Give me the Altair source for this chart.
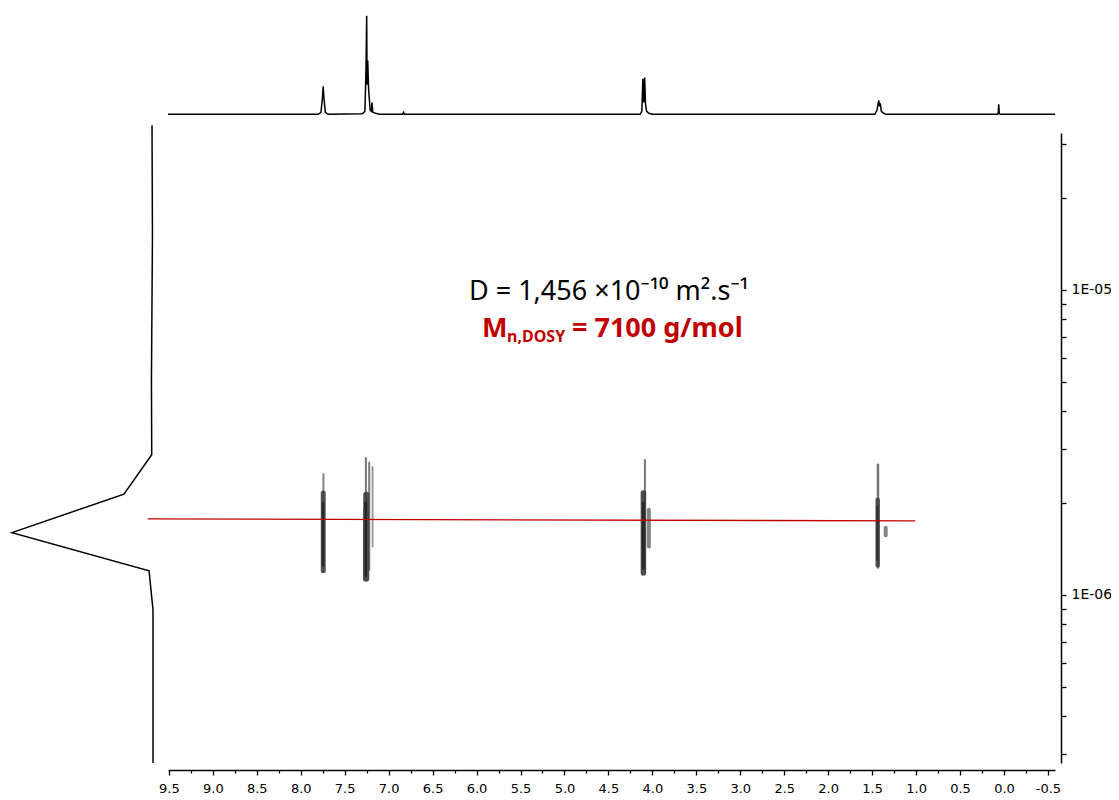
import altair as alt
import pandas as pd

# ---------------- data ----------------
# top 1D 1H spectrum: chemical shift (ppm) and normalised intensity
spec_ppm = [9.51, 7.80, 7.77, 7.755, 7.745, 7.735, 7.72, 7.69,
            7.30, 7.27, 7.258, 7.25, 7.245, 7.238, 7.228, 7.21, 7.195, 7.19, 7.18, 7.15, 7.10,
            6.84, 6.83, 6.82,
            4.14, 4.12, 4.108, 4.098, 4.088, 4.078, 4.065, 4.04, 4.00,
            1.47, 1.445, 1.425, 1.415, 1.408, 1.395, 1.37, 1.34,
            0.075, 0.066, 0.06, 0.054, 0.045, -0.58]
spec_int = [0, 0, 0.02, 0.15, 0.283, 0.15, 0.02, 0,
            0.005, 0.03, 0.45, 1.0, 0.3, 0.545, 0.25, 0.04, 0.03, 0.12, 0.02, 0.01, 0,
            0, 0.02, 0,
            0, 0.03, 0.36, 0.12, 0.374, 0.10, 0.03, 0.01, 0,
            0, 0.04, 0.141, 0.08, 0.11, 0.03, 0.01, 0,
            0, 0.01, 0.101, 0.01, 0, 0]

# left diffusion projection: intensity vs diffusion coefficient
proj_int = [0.007, 0.004, 0.011, 0.009, 0.206, 1.0, 0.028, 0.0, 0.0]
proj_D = [3.47e-5, 1.5e-5, 5.07e-6, 2.88e-6, 2.14e-6, 1.60e-6, 1.20e-6, 8.93e-7, 2.81e-7]

# red fitted diffusion line
red_ppm = [9.74, 1.01]
red_D = [1.775e-6, 1.748e-6]

# DOSY cross-peak contours: shift, D low, D high, stroke width, shade
cont_ppm = [7.742, 7.744, 7.746,
            7.259, 7.221, 7.183, 7.255, 7.262, 7.280,
            4.085, 4.102, 4.105, 4.040,
            1.434, 1.437, 1.440, 1.346]
cont_Dlo = [1.19e-6, 1.20e-6, 1.25e-6,
            1.14e-6, 1.21e-6, 1.44e-6, 1.13e-6, 1.16e-6, 1.12e-6,
            1.21e-6, 1.18e-6, 1.22e-6, 1.44e-6,
            1.23e-6, 1.25e-6, 1.30e-6, 1.57e-6]
cont_Dhi = [2.49e-6, 2.16e-6, 2.00e-6,
            2.81e-6, 2.71e-6, 2.63e-6, 2.13e-6, 2.00e-6, 1.90e-6,
            2.77e-6, 2.16e-6, 2.00e-6, 1.90e-6,
            2.67e-6, 2.05e-6, 1.95e-6, 1.66e-6]
cont_w = [2, 5, 2.5,
          2, 2, 1.8, 6, 3, 2,
          2, 5.5, 2.5, 4,
          2.5, 4.5, 2, 4]
cont_c = ['#777777', '#444444', '#222222',
          '#666666', '#6a6a6a', '#888888', '#3a3a3a', '#222222', '#444444',
          '#666666', '#3a3a3a', '#222222', '#777777',
          '#666666', '#444444', '#2a2a2a', '#777777']

# axis ticks
x_major = [9.5, 9.0, 8.5, 8.0, 7.5, 7.0, 6.5, 6.0, 5.5, 5.0, 4.5, 4.0,
           3.5, 3.0, 2.5, 2.0, 1.5, 1.0, 0.5, 0.0, -0.5]
x_minor = [9.25, 8.75, 8.25, 7.75, 7.25, 6.75, 6.25, 5.75, 5.25, 4.75, 4.25,
           3.75, 3.25, 2.75, 2.25, 1.75, 1.25, 0.75, 0.25, -0.25]
y_ticks = [3e-5, 2e-5, 1e-5, 9e-6, 8e-6, 7e-6, 6e-6, 5e-6, 4e-6, 3e-6, 2e-6,
           1e-6, 9e-7, 8e-7, 7e-7, 6e-7, 5e-7, 4e-7, 3e-7]

# annotation texts
text_D = "D = 1,456 ×10⁻¹⁰ m².s⁻¹"
text_M = "M"
text_sub = "n,DOSY"
text_rest = "= 7100 g/mol"

# ---------------- tables ----------------
spec_df = pd.DataFrame({"ppm": spec_ppm, "I": spec_int, "i": range(len(spec_ppm))})
proj_df = pd.DataFrame({"I": proj_int, "D": proj_D, "i": range(len(proj_D))})
red_df = pd.DataFrame({"ppm": red_ppm, "D": red_D})
cont_df = pd.DataFrame({"ppm": cont_ppm, "Dlo": cont_Dlo, "Dhi": cont_Dhi,
                        "w": cont_w, "c": cont_c})

W, H = 887, 630
XS = alt.Scale(domain=[9.51, -0.58], nice=False, zero=False)
YS = alt.Scale(type="log", domain=[2.81e-7, 3.27e-5], nice=False)
SPEC_YS = alt.Scale(domain=[0, 1], range=[-18.7, -117.3], nice=False, zero=False)
PROJ_XS = alt.Scale(domain=[0, 1], range=[-15, -156], nice=False, zero=False)

common_axis = dict(title=None, grid=False, domainColor="black", tickColor="black",
                   labelColor="black", domainWidth=1.5, tickWidth=1.3)

XAX_MAJOR = alt.Axis(orient="bottom", offset=7, values=x_major, tickSize=5,
                     labelPadding=7, labelFont="DejaVu Sans", labelFontSize=13,
                     labelFlush=False, labelOverlap=False,
                     labelExpr="datum.value < 0 ? '-' + format(-datum.value, '.1f') : format(datum.value, '.1f')",
                     **common_axis)
XAX_MINOR = alt.Axis(orient="bottom", offset=7, values=x_minor, tickSize=3,
                     labels=False, domain=False, title=None, grid=False,
                     tickColor="black", tickWidth=1.3)
YAX = alt.Axis(orient="right", offset=6, values=y_ticks, tickSize=5,
               labelPadding=5, labelFont="DejaVu Sans", labelFontSize=14,
               labelOverlap=False, labelFlush=False,
               labelExpr="abs(log(datum.value)/LN10 - round(log(datum.value)/LN10)) < 0.001 ? '1E-0' + (-round(log(datum.value)/LN10)) : ''",
               **common_axis)

spec = alt.Chart(spec_df).mark_line(color="black", strokeWidth=1.5).encode(
    x=alt.X("ppm:Q", scale=XS, axis=None),
    y=alt.Y("I:Q", scale=SPEC_YS, axis=None),
    order="i:Q",
)

proj = alt.Chart(proj_df).mark_line(color="black", strokeWidth=1.5).encode(
    x=alt.X("I:Q", scale=PROJ_XS, axis=None),
    y=alt.Y("D:Q", scale=YS, axis=None),
    order="i:Q",
)

cont = alt.Chart(cont_df).mark_rule(strokeCap="round", opacity=0.9).encode(
    x=alt.X("ppm:Q", scale=XS, axis=XAX_MAJOR),
    y=alt.Y("Dlo:Q", scale=YS, axis=YAX),
    y2="Dhi:Q",
    color=alt.Color("c:N", scale=None),
    strokeWidth=alt.StrokeWidth("w:Q", scale=None),
)

red = alt.Chart(red_df).mark_line(color="#C00000", strokeWidth=1.3).encode(
    x=alt.X("ppm:Q", scale=XS, axis=XAX_MINOR),
    y=alt.Y("D:Q", scale=YS, axis=None),
)

t1 = alt.Chart(pd.DataFrame({"t": [text_D]})).mark_text(
    font="Noto Sans", fontSize=27, color="black", align="center", baseline="alphabetic"
).encode(text="t:N", x=alt.value(441), y=alt.value(167))

t2 = alt.Chart(pd.DataFrame({"t": [text_M]})).mark_text(
    font="Noto Sans", fontSize=27, fontWeight="bold", color="#C00000",
    align="left", baseline="alphabetic"
).encode(text="t:N", x=alt.value(314), y=alt.value(204))

t3 = alt.Chart(pd.DataFrame({"t": [text_sub]})).mark_text(
    font="Noto Sans", fontSize=16, fontWeight="bold", color="#C00000",
    align="left", baseline="alphabetic"
).encode(text="t:N", x=alt.value(339), y=alt.value(209))

t4 = alt.Chart(pd.DataFrame({"t": [text_rest]})).mark_text(
    font="Noto Sans", fontSize=27, fontWeight="bold", color="#C00000",
    align="left", baseline="alphabetic"
).encode(text="t:N", x=alt.value(404), y=alt.value(204))

chart = alt.layer(spec, proj, cont, red, t1, t2, t3, t4).resolve_scale(
    x="independent", y="independent"
).properties(
    width=W, height=H,
    autosize=alt.AutoSizeParams(type="none"),
    padding={"left": 160, "top": 125, "right": 56, "bottom": 32},
).configure_view(stroke=None).configure_axis(grid=False)

chart.save("out.html", embed_options={"renderer": "svg", "actions": False})
